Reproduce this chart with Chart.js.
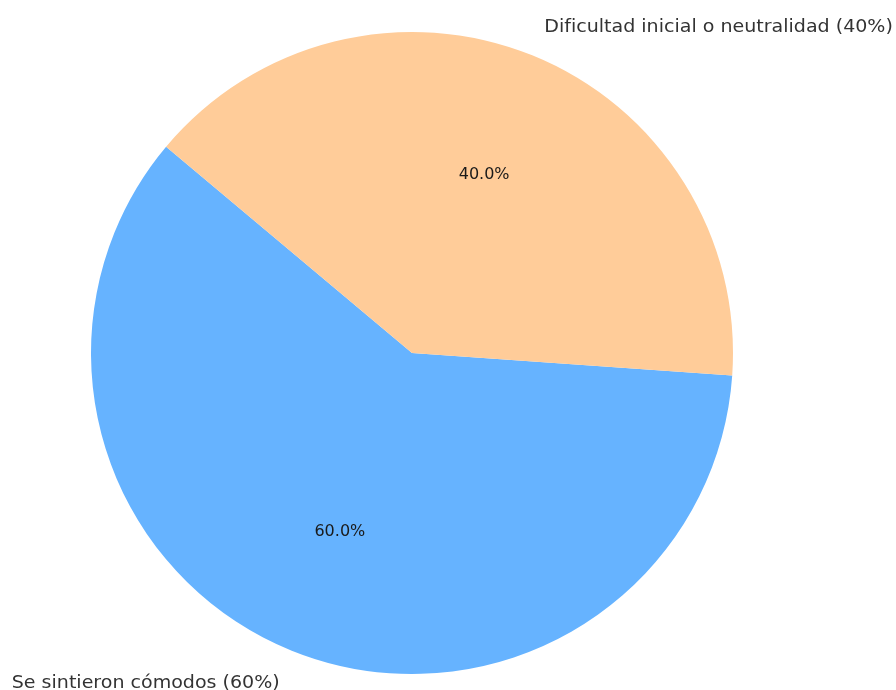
<!DOCTYPE html>
<html lang="es">
<head>
    <meta charset="UTF-8">
    <title>Comodidad percibida</title>
    <script src="https://cdn.jsdelivr.net/npm/chart.js@4.4.0/dist/chart.umd.min.js"></script>
    <style>
        html, body { margin: 0; padding: 0; background: #ffffff; }
        .chart-container { position: relative; width: 896px; height: 690px; }
    </style>
</head>
<body>
    <div class="chart-container">
        <canvas id="pieChart"></canvas>
    </div>
    <script>
        // Slice names and shares (%)
        const categories = ['Se sintieron cómodos (60%)', 'Dificultad inicial o neutralidad (40%)'];
        const shares = [60, 40];
        const sliceColors = ['#66b3ff', '#ffcc99'];

        // text drawn slightly wider than the font's natural width
        function stretchedText(ctx, text, x, y, sx) {
            ctx.save();
            ctx.translate(x, y);
            ctx.scale(sx, 1);
            ctx.fillText(text, 0, 0);
            ctx.restore();
        }

        // Draws the outer category labels and inner percentage labels
        const sliceLabels = {
            id: 'sliceLabels',
            afterDatasetsDraw(chart) {
                const ctx = chart.ctx;
                const meta = chart.getDatasetMeta(0);
                const total = shares.reduce((a, b) => a + b, 0);
                ctx.save();
                meta.data.forEach((arc, i) => {
                    const mid = (arc.startAngle + arc.endAngle) / 2;
                    const r = arc.outerRadius;
                    const cos = Math.cos(mid), sin = Math.sin(mid);

                    // percentage inside the slice
                    ctx.font = '16px "DejaVu Sans"';
                    ctx.fillStyle = '#1a1a1a';
                    ctx.textAlign = 'center';
                    ctx.textBaseline = 'middle';
                    const pct = (shares[i] / total * 100).toFixed(1) + '%';
                    ctx.fillText(pct, arc.x + 0.6 * r * cos, arc.y + 0.6 * r * sin);

                    // category name outside the slice
                    ctx.font = '17px "DejaVu Sans"';
                    ctx.fillStyle = '#333333';
                    ctx.textAlign = cos < 0 ? 'right' : 'left';
                    const lx = arc.x + 1.1 * r * cos;
                    const ly = arc.y + 1.1 * r * sin + (sin > 0 ? 3 : 2);
                    stretchedText(ctx, categories[i], lx, ly, 1.12);
                });
                ctx.restore();
            }
        };

        new Chart(document.getElementById('pieChart'), {
            type: 'pie',
            data: {
                labels: categories,
                datasets: [{
                    data: shares,
                    backgroundColor: sliceColors,
                    borderWidth: 0
                }]
            },
            options: {
                responsive: true,
                maintainAspectRatio: false,
                animation: false,
                rotation: 94,
                layout: {
                    padding: { left: 91, right: 163, top: 32, bottom: 16 }
                },
                plugins: {
                    legend: { display: false },
                    tooltip: { enabled: false }
                }
            },
            plugins: [sliceLabels]
        });
    </script>
</body>
</html>
